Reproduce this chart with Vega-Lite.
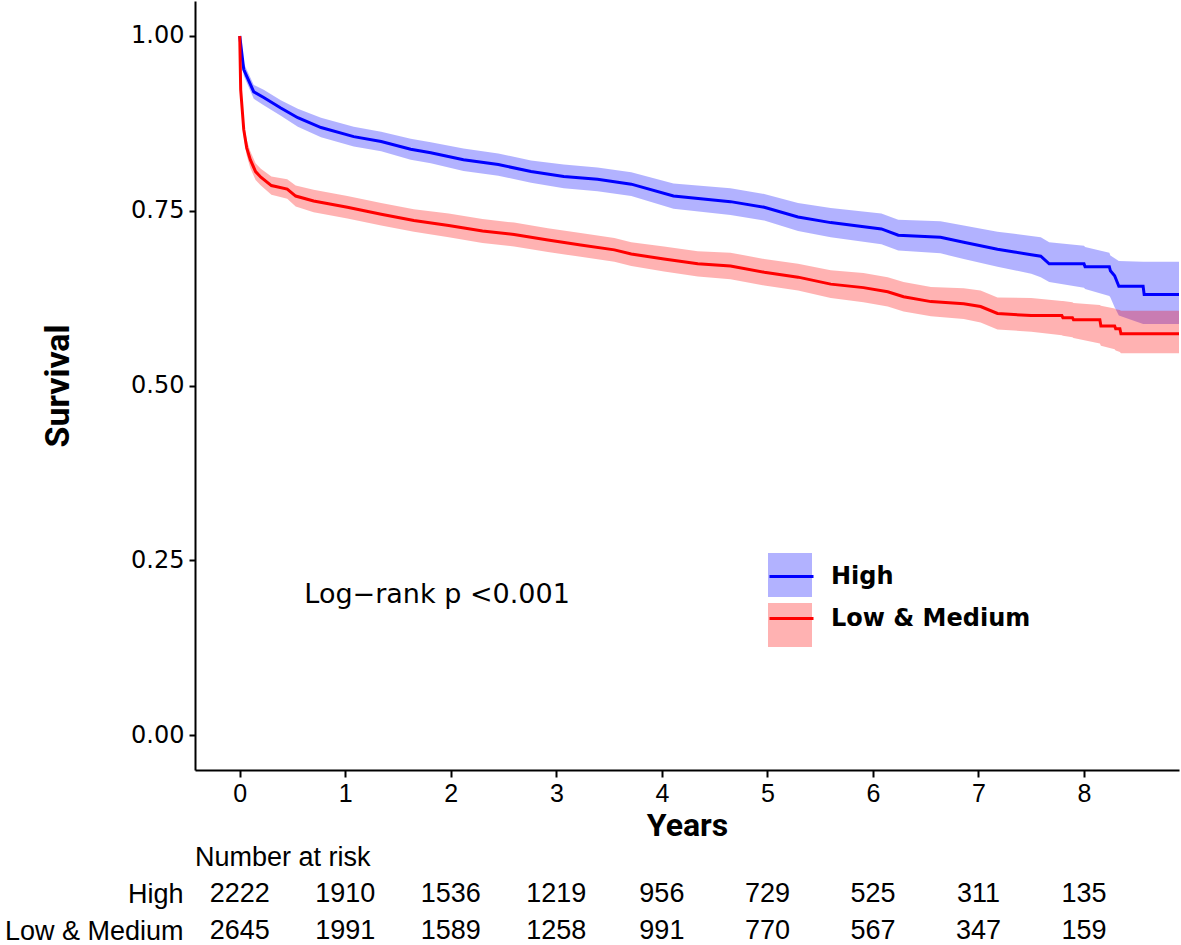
{
  "$schema": "https://vega.github.io/schema/vega-lite/v6.json",
  "background": "white",
  "padding": {"left": 4, "top": 1, "right": 3, "bottom": 0},
  "spacing": 3,
  "config": {
    "view": {"stroke": null},
    "axis": {"grid": false, "domainColor": "black", "tickColor": "black", "labelColor": "black", "titleColor": "black", "domainWidth": 2, "tickWidth": 2},
    "legend": {"labelFont": "DejaVu Sans", "labelFontSize": 24, "labelFontWeight": "bold", "labelColor": "black", "labelOffset": 16, "rowPadding": 6, "padding": 0, "symbolSize": 1936, "direction": "vertical", "labelLimit": 400}
  },
  "datasets": {
    "band": [
      {"group": "High", "t": 0, "lower": 1.0, "upper": 1.0},
      {"group": "High", "t": 0.038, "lower": 0.943, "upper": 0.961},
      {"group": "High", "t": 0.133, "lower": 0.910, "upper": 0.930},
      {"group": "High", "t": 0.227, "lower": 0.901, "upper": 0.923},
      {"group": "High", "t": 0.389, "lower": 0.886, "upper": 0.908},
      {"group": "High", "t": 0.55, "lower": 0.870, "upper": 0.896},
      {"group": "High", "t": 0.77, "lower": 0.855, "upper": 0.883},
      {"group": "High", "t": 1.08, "lower": 0.842, "upper": 0.870},
      {"group": "High", "t": 1.34, "lower": 0.835, "upper": 0.863},
      {"group": "High", "t": 1.62, "lower": 0.823, "upper": 0.853},
      {"group": "High", "t": 1.81, "lower": 0.818, "upper": 0.848},
      {"group": "High", "t": 2.12, "lower": 0.807, "upper": 0.839},
      {"group": "High", "t": 2.45, "lower": 0.800, "upper": 0.832},
      {"group": "High", "t": 2.76, "lower": 0.790, "upper": 0.822},
      {"group": "High", "t": 3.07, "lower": 0.782, "upper": 0.816},
      {"group": "High", "t": 3.39, "lower": 0.778, "upper": 0.812},
      {"group": "High", "t": 3.71, "lower": 0.771, "upper": 0.805},
      {"group": "High", "t": 4.11, "lower": 0.753, "upper": 0.789},
      {"group": "High", "t": 4.65, "lower": 0.744, "upper": 0.782},
      {"group": "High", "t": 4.97, "lower": 0.736, "upper": 0.774},
      {"group": "High", "t": 5.29, "lower": 0.721, "upper": 0.761},
      {"group": "High", "t": 5.60, "lower": 0.712, "upper": 0.754},
      {"group": "High", "t": 6.08, "lower": 0.702, "upper": 0.746},
      {"group": "High", "t": 6.24, "lower": 0.693, "upper": 0.737},
      {"group": "High", "t": 6.64, "lower": 0.689, "upper": 0.735},
      {"group": "High", "t": 6.86, "lower": 0.681, "upper": 0.729},
      {"group": "High", "t": 7.18, "lower": 0.670, "upper": 0.720},
      {"group": "High", "t": 7.34, "lower": 0.665, "upper": 0.717},
      {"group": "High", "t": 7.50, "lower": 0.660, "upper": 0.714},
      {"group": "High", "t": 7.59, "lower": 0.655, "upper": 0.712},
      {"group": "High", "t": 7.67, "lower": 0.648, "upper": 0.705},
      {"group": "High", "t": 8.00, "lower": 0.640, "upper": 0.700},
      {"group": "High", "t": 8.01, "lower": 0.638, "upper": 0.698},
      {"group": "High", "t": 8.24, "lower": 0.628, "upper": 0.690},
      {"group": "High", "t": 8.25, "lower": 0.626, "upper": 0.686},
      {"group": "High", "t": 8.29, "lower": 0.612, "upper": 0.682},
      {"group": "High", "t": 8.33, "lower": 0.600, "upper": 0.678},
      {"group": "High", "t": 8.56, "lower": 0.588, "upper": 0.677},
      {"group": "High", "t": 8.9, "lower": 0.588, "upper": 0.677},
      {"group": "Low & Medium", "t": 0, "lower": 1.0, "upper": 1.0},
      {"group": "Low & Medium", "t": 0.009, "lower": 0.913, "upper": 0.933},
      {"group": "Low & Medium", "t": 0.038, "lower": 0.855, "upper": 0.877},
      {"group": "Low & Medium", "t": 0.066, "lower": 0.829, "upper": 0.851},
      {"group": "Low & Medium", "t": 0.10, "lower": 0.811, "upper": 0.835},
      {"group": "Low & Medium", "t": 0.15, "lower": 0.794, "upper": 0.818},
      {"group": "Low & Medium", "t": 0.20, "lower": 0.786, "upper": 0.810},
      {"group": "Low & Medium", "t": 0.30, "lower": 0.773, "upper": 0.799},
      {"group": "Low & Medium", "t": 0.45, "lower": 0.767, "upper": 0.795},
      {"group": "Low & Medium", "t": 0.53, "lower": 0.756, "upper": 0.786},
      {"group": "Low & Medium", "t": 0.70, "lower": 0.748, "upper": 0.780},
      {"group": "Low & Medium", "t": 1.02, "lower": 0.739, "upper": 0.771},
      {"group": "Low & Medium", "t": 1.34, "lower": 0.729, "upper": 0.761},
      {"group": "Low & Medium", "t": 1.65, "lower": 0.720, "upper": 0.752},
      {"group": "Low & Medium", "t": 1.98, "lower": 0.712, "upper": 0.746},
      {"group": "Low & Medium", "t": 2.30, "lower": 0.704, "upper": 0.738},
      {"group": "Low & Medium", "t": 2.60, "lower": 0.699, "upper": 0.733},
      {"group": "Low & Medium", "t": 2.92, "lower": 0.691, "upper": 0.725},
      {"group": "Low & Medium", "t": 3.23, "lower": 0.684, "upper": 0.718},
      {"group": "Low & Medium", "t": 3.55, "lower": 0.677, "upper": 0.711},
      {"group": "Low & Medium", "t": 3.71, "lower": 0.671, "upper": 0.705},
      {"group": "Low & Medium", "t": 4.02, "lower": 0.663, "upper": 0.699},
      {"group": "Low & Medium", "t": 4.34, "lower": 0.656, "upper": 0.692},
      {"group": "Low & Medium", "t": 4.65, "lower": 0.652, "upper": 0.690},
      {"group": "Low & Medium", "t": 4.97, "lower": 0.643, "upper": 0.681},
      {"group": "Low & Medium", "t": 5.29, "lower": 0.636, "upper": 0.674},
      {"group": "Low & Medium", "t": 5.60, "lower": 0.625, "upper": 0.665},
      {"group": "Low & Medium", "t": 5.91, "lower": 0.619, "upper": 0.661},
      {"group": "Low & Medium", "t": 6.14, "lower": 0.613, "upper": 0.655},
      {"group": "Low & Medium", "t": 6.29, "lower": 0.606, "upper": 0.648},
      {"group": "Low & Medium", "t": 6.55, "lower": 0.599, "upper": 0.641},
      {"group": "Low & Medium", "t": 6.86, "lower": 0.595, "upper": 0.639},
      {"group": "Low & Medium", "t": 7.02, "lower": 0.590, "upper": 0.636},
      {"group": "Low & Medium", "t": 7.18, "lower": 0.580, "upper": 0.626},
      {"group": "Low & Medium", "t": 7.50, "lower": 0.577, "upper": 0.625},
      {"group": "Low & Medium", "t": 7.79, "lower": 0.572, "upper": 0.621},
      {"group": "Low & Medium", "t": 7.80, "lower": 0.571, "upper": 0.621},
      {"group": "Low & Medium", "t": 7.89, "lower": 0.569, "upper": 0.619},
      {"group": "Low & Medium", "t": 7.90, "lower": 0.568, "upper": 0.618},
      {"group": "Low & Medium", "t": 8.15, "lower": 0.560, "upper": 0.615},
      {"group": "Low & Medium", "t": 8.16, "lower": 0.557, "upper": 0.614},
      {"group": "Low & Medium", "t": 8.29, "lower": 0.552, "upper": 0.610},
      {"group": "Low & Medium", "t": 8.30, "lower": 0.550, "upper": 0.609},
      {"group": "Low & Medium", "t": 8.34, "lower": 0.548, "upper": 0.608},
      {"group": "Low & Medium", "t": 8.35, "lower": 0.546, "upper": 0.607},
      {"group": "Low & Medium", "t": 8.9, "lower": 0.546, "upper": 0.607}
    ],
    "curve": [
      {"group": "High", "t": 0, "surv": 1.0},
      {"group": "High", "t": 0.038, "surv": 0.952},
      {"group": "High", "t": 0.133, "surv": 0.920},
      {"group": "High", "t": 0.227, "surv": 0.912},
      {"group": "High", "t": 0.389, "surv": 0.897},
      {"group": "High", "t": 0.55, "surv": 0.883},
      {"group": "High", "t": 0.77, "surv": 0.869},
      {"group": "High", "t": 1.08, "surv": 0.856},
      {"group": "High", "t": 1.34, "surv": 0.849},
      {"group": "High", "t": 1.62, "surv": 0.838},
      {"group": "High", "t": 1.81, "surv": 0.833},
      {"group": "High", "t": 2.12, "surv": 0.823},
      {"group": "High", "t": 2.45, "surv": 0.816},
      {"group": "High", "t": 2.76, "surv": 0.806},
      {"group": "High", "t": 3.07, "surv": 0.799},
      {"group": "High", "t": 3.39, "surv": 0.795},
      {"group": "High", "t": 3.71, "surv": 0.788},
      {"group": "High", "t": 4.11, "surv": 0.771},
      {"group": "High", "t": 4.65, "surv": 0.763},
      {"group": "High", "t": 4.97, "surv": 0.755},
      {"group": "High", "t": 5.29, "surv": 0.741},
      {"group": "High", "t": 5.60, "surv": 0.733},
      {"group": "High", "t": 6.08, "surv": 0.724},
      {"group": "High", "t": 6.24, "surv": 0.715},
      {"group": "High", "t": 6.64, "surv": 0.712},
      {"group": "High", "t": 6.86, "surv": 0.705},
      {"group": "High", "t": 7.18, "surv": 0.695},
      {"group": "High", "t": 7.34, "surv": 0.691},
      {"group": "High", "t": 7.50, "surv": 0.687},
      {"group": "High", "t": 7.59, "surv": 0.685},
      {"group": "High", "t": 7.67, "surv": 0.674},
      {"group": "High", "t": 8.00, "surv": 0.674},
      {"group": "High", "t": 8.01, "surv": 0.670},
      {"group": "High", "t": 8.24, "surv": 0.670},
      {"group": "High", "t": 8.25, "surv": 0.664},
      {"group": "High", "t": 8.29, "surv": 0.657},
      {"group": "High", "t": 8.33, "surv": 0.642},
      {"group": "High", "t": 8.56, "surv": 0.642},
      {"group": "High", "t": 8.57, "surv": 0.630},
      {"group": "High", "t": 8.9, "surv": 0.630},
      {"group": "Low & Medium", "t": 0, "surv": 1.0},
      {"group": "Low & Medium", "t": 0.009, "surv": 0.923},
      {"group": "Low & Medium", "t": 0.038, "surv": 0.866},
      {"group": "Low & Medium", "t": 0.066, "surv": 0.840},
      {"group": "Low & Medium", "t": 0.10, "surv": 0.823},
      {"group": "Low & Medium", "t": 0.15, "surv": 0.806},
      {"group": "Low & Medium", "t": 0.20, "surv": 0.798},
      {"group": "Low & Medium", "t": 0.30, "surv": 0.786},
      {"group": "Low & Medium", "t": 0.45, "surv": 0.781},
      {"group": "Low & Medium", "t": 0.53, "surv": 0.771},
      {"group": "Low & Medium", "t": 0.70, "surv": 0.764},
      {"group": "Low & Medium", "t": 1.02, "surv": 0.755},
      {"group": "Low & Medium", "t": 1.34, "surv": 0.745},
      {"group": "Low & Medium", "t": 1.65, "surv": 0.736},
      {"group": "Low & Medium", "t": 1.98, "surv": 0.729},
      {"group": "Low & Medium", "t": 2.30, "surv": 0.721},
      {"group": "Low & Medium", "t": 2.60, "surv": 0.716},
      {"group": "Low & Medium", "t": 2.92, "surv": 0.708},
      {"group": "Low & Medium", "t": 3.23, "surv": 0.701},
      {"group": "Low & Medium", "t": 3.55, "surv": 0.694},
      {"group": "Low & Medium", "t": 3.71, "surv": 0.688},
      {"group": "Low & Medium", "t": 4.02, "surv": 0.681},
      {"group": "Low & Medium", "t": 4.34, "surv": 0.674},
      {"group": "Low & Medium", "t": 4.65, "surv": 0.671},
      {"group": "Low & Medium", "t": 4.97, "surv": 0.662},
      {"group": "Low & Medium", "t": 5.29, "surv": 0.655},
      {"group": "Low & Medium", "t": 5.60, "surv": 0.645},
      {"group": "Low & Medium", "t": 5.91, "surv": 0.640},
      {"group": "Low & Medium", "t": 6.14, "surv": 0.634},
      {"group": "Low & Medium", "t": 6.29, "surv": 0.627},
      {"group": "Low & Medium", "t": 6.55, "surv": 0.620},
      {"group": "Low & Medium", "t": 6.86, "surv": 0.617},
      {"group": "Low & Medium", "t": 7.02, "surv": 0.613},
      {"group": "Low & Medium", "t": 7.18, "surv": 0.603},
      {"group": "Low & Medium", "t": 7.50, "surv": 0.600},
      {"group": "Low & Medium", "t": 7.79, "surv": 0.600},
      {"group": "Low & Medium", "t": 7.80, "surv": 0.597},
      {"group": "Low & Medium", "t": 7.89, "surv": 0.597},
      {"group": "Low & Medium", "t": 7.90, "surv": 0.594},
      {"group": "Low & Medium", "t": 8.15, "surv": 0.594},
      {"group": "Low & Medium", "t": 8.16, "surv": 0.585},
      {"group": "Low & Medium", "t": 8.29, "surv": 0.585},
      {"group": "Low & Medium", "t": 8.30, "surv": 0.581},
      {"group": "Low & Medium", "t": 8.34, "surv": 0.581},
      {"group": "Low & Medium", "t": 8.35, "surv": 0.574},
      {"group": "Low & Medium", "t": 8.9, "surv": 0.574}
    ],
    "risk": [
      {"group": "High", "t": 0, "n": "2222"},
      {"group": "High", "t": 1, "n": "1910"},
      {"group": "High", "t": 2, "n": "1536"},
      {"group": "High", "t": 3, "n": "1219"},
      {"group": "High", "t": 4, "n": "956"},
      {"group": "High", "t": 5, "n": "729"},
      {"group": "High", "t": 6, "n": "525"},
      {"group": "High", "t": 7, "n": "311"},
      {"group": "High", "t": 8, "n": "135"},
      {"group": "Low & Medium", "t": 0, "n": "2645"},
      {"group": "Low & Medium", "t": 1, "n": "1991"},
      {"group": "Low & Medium", "t": 2, "n": "1589"},
      {"group": "Low & Medium", "t": 3, "n": "1258"},
      {"group": "Low & Medium", "t": 4, "n": "991"},
      {"group": "Low & Medium", "t": 5, "n": "770"},
      {"group": "Low & Medium", "t": 6, "n": "567"},
      {"group": "Low & Medium", "t": 7, "n": "347"},
      {"group": "Low & Medium", "t": 8, "n": "159"}
    ],
    "note": [
      {"t": 1.87, "v": 0.2, "label": "Log−rank p <0.001"}
    ]
  },
  "vconcat": [
    {
      "width": 984,
      "height": 769,
      "layer": [
        {
          "data": {"name": "band"},
          "mark": {"type": "area", "interpolate": "linear", "fillOpacity": 0.3, "clip": true},
          "encoding": {
            "x": {"field": "t", "type": "quantitative", "scale": {"domain": [-0.424, 8.9], "nice": false, "zero": false},
              "axis": {"values": [0, 1, 2, 3, 4, 5, 6, 7, 8], "format": "d", "title": "Years", "labelFont": "Liberation Sans", "labelFontSize": 25, "tickSize": 7, "labelPadding": 4, "titleFont": "Roboto", "titleFontWeight": "bold", "titleFontSize": 32, "titlePadding": 4}},
            "y": {"field": "lower", "type": "quantitative", "scale": {"domain": [-0.05, 1.05], "nice": false, "zero": false},
              "axis": {"values": [0, 0.25, 0.5, 0.75, 1], "format": ".2f", "title": "Survival", "labelFont": "DejaVu Sans", "labelFontSize": 24, "tickSize": 6, "labelPadding": 5, "titleFont": "Roboto", "titleFontWeight": "bold", "titleFontSize": 34, "titlePadding": 55}},
            "y2": {"field": "upper"},
            "fill": {"field": "group", "type": "nominal", "scale": {"range": ["#0000FF", "#FF0000"]},
              "legend": {"title": null, "orient": "none", "legendX": 573, "legendY": 552, "symbolType": "square", "symbolOpacity": 0.3, "symbolStrokeWidth": 0, "labelExpr": "''"}}
          }
        },
        {
          "data": {"name": "curve"},
          "mark": {"type": "line", "interpolate": "linear", "strokeWidth": 3, "clip": true},
          "encoding": {
            "x": {"field": "t", "type": "quantitative"},
            "y": {"field": "surv", "type": "quantitative"},
            "stroke": {"field": "group", "type": "nominal", "scale": {"range": ["#0000FF", "#FF0000"]},
              "legend": {"title": null, "orient": "none", "legendX": 573, "legendY": 552, "symbolType": "stroke", "symbolStrokeWidth": 3}}
          }
        },
        {
          "data": {"name": "note"},
          "mark": {"type": "text", "font": "DejaVu Sans", "fontSize": 27, "align": "center", "baseline": "middle", "color": "black"},
          "encoding": {
            "x": {"field": "t", "type": "quantitative"},
            "y": {"field": "v", "type": "quantitative"},
            "text": {"field": "label"}
          }
        }
      ]
    },
    {
      "width": 984,
      "height": 67,
      "title": {"text": "Number at risk", "anchor": "start", "frame": "group", "font": "Liberation Sans", "fontSize": 27, "fontWeight": "normal", "color": "black", "offset": 4},
      "data": {"name": "risk"},
      "mark": {"type": "text", "font": "Liberation Sans", "fontSize": 27, "color": "black", "baseline": "middle"},
      "encoding": {
        "x": {"field": "t", "type": "quantitative", "scale": {"domain": [-0.424, 8.9], "nice": false, "zero": false}, "axis": null},
        "y": {"field": "group", "type": "nominal", "sort": ["High", "Low & Medium"], "scale": {"range": [18, 55], "padding": 0}, "axis": {"title": null, "domain": false, "ticks": false, "labelFont": "Liberation Sans", "labelFontSize": 27, "labelPadding": 12, "labelColor": "black", "labelLimit": 400}},
        "text": {"field": "n", "type": "nominal"}
      }
    }
  ]
}
